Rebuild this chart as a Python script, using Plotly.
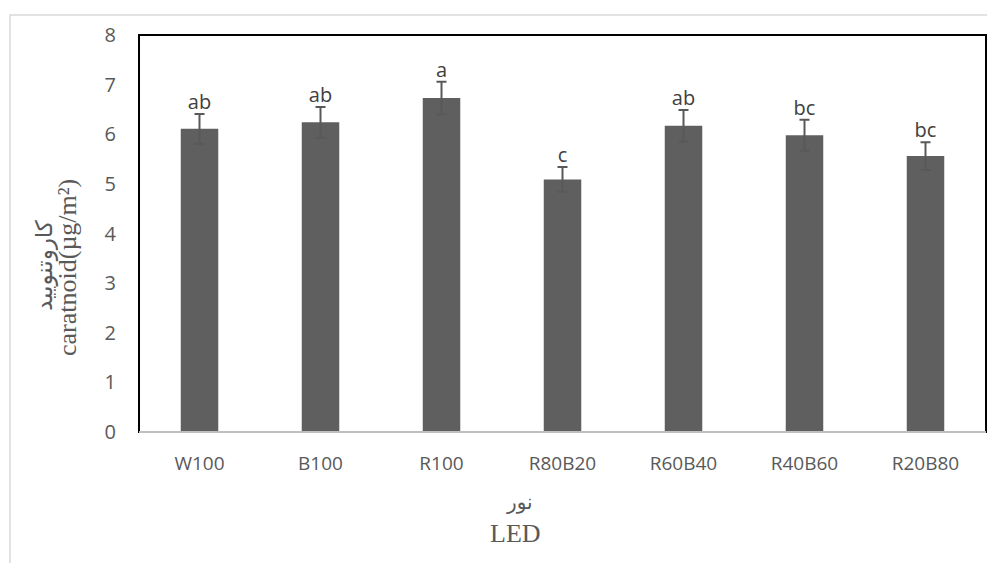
import plotly.graph_objects as go

categories = ["W100", "B100", "R100", "R80B20", "R60B40", "R40B60", "R20B80"]
values = [6.11, 6.24, 6.73, 5.09, 6.17, 5.98, 5.56]
errors = [0.30, 0.31, 0.33, 0.25, 0.32, 0.31, 0.28]
letters = ["ab", "ab", "a", "c", "ab", "bc", "bc"]
y_ticks = [0, 1, 2, 3, 4, 5, 6, 7, 8]

# page has an 8px body margin; work in reference pixel coords and shift
OFF = 8
W, H = 995 - OFF, 563 - OFF
L, T = 139 - OFF, 35 - OFF
R = W - (986 - OFF)
B = H - (432 - OFF)
pw, ph = W - L - R, H - T - B

fig = go.Figure()
fig.add_trace(go.Bar(
    x=categories, y=values, width=0.31,
    marker=dict(color="#5f5f5f", line=dict(width=0)),
    error_y=dict(type="data", array=errors, visible=True, color="#595959",
                 thickness=2, width=5),
    showlegend=False, hoverinfo="skip",
))
fig.add_trace(go.Scatter(
    x=categories, y=[v + e for v, e in zip(values, errors)],
    mode="text", text=letters, textposition="top center",
    textfont=dict(family="Open Sans", size=20, color="#404040"),
    showlegend=False, hoverinfo="skip",
))

def px_x(x):
    return (x - OFF - L) / pw

def px_y(y):
    return 1 - (y - OFF - T) / ph

shapes = [
    dict(type="rect", xref="paper", yref="paper",
         x0=px_x(10), x1=px_x(1100), y0=px_y(700), y1=px_y(15),
         line=dict(color="#d9d9d9", width=1.5), layer="below"),
    dict(type="rect", xref="paper", yref="paper", x0=0, x1=1, y0=0, y1=1,
         line=dict(color="#000000", width=2), layer="above"),
    dict(type="line", xref="paper", yref="paper", x0=0, x1=1, y0=0, y1=0,
         line=dict(color="#bfbfbf", width=2), layer="above"),
]

common = dict(xref="paper", yref="paper", showarrow=False,
              xanchor="center", yanchor="middle")
annotations = [
    dict(text="کاروتنویید", x=px_x(44), y=px_y(266), textangle=-90,
         font=dict(family="DejaVu Sans", size=23, color="#595959"), **common),
    dict(text="caratnoid(µg/m²)", x=px_x(67), y=px_y(268), textangle=-90,
         font=dict(family="Liberation Serif", size=26, color="#595959"), **common),
    dict(text="نور", x=px_x(519), y=px_y(502),
         font=dict(family="DejaVu Sans", size=20, color="#595959"), **common),
    dict(text="LED", x=px_x(515), y=px_y(533),
         font=dict(family="Liberation Serif", size=26, color="#595959"), **common),
]

fig.update_layout(
    width=W, height=H,
    margin=dict(l=L, r=R, t=T, b=B, pad=0),
    paper_bgcolor="white", plot_bgcolor="white",
    shapes=shapes, annotations=annotations,
    xaxis=dict(showgrid=False, showline=False, zeroline=False,
               tickfont=dict(family="Open Sans", size=19, color="#595959"),
               ticks="outside", ticklen=14, tickcolor="rgba(0,0,0,0)"),
    yaxis=dict(range=[0, 8], tickvals=y_ticks, showgrid=False, zeroline=False,
               showline=False,
               tickfont=dict(family="Open Sans", size=20, color="#595959"),
               ticks="outside", ticklen=18, tickcolor="rgba(0,0,0,0)"),
)

fig.write_html("out.html")
